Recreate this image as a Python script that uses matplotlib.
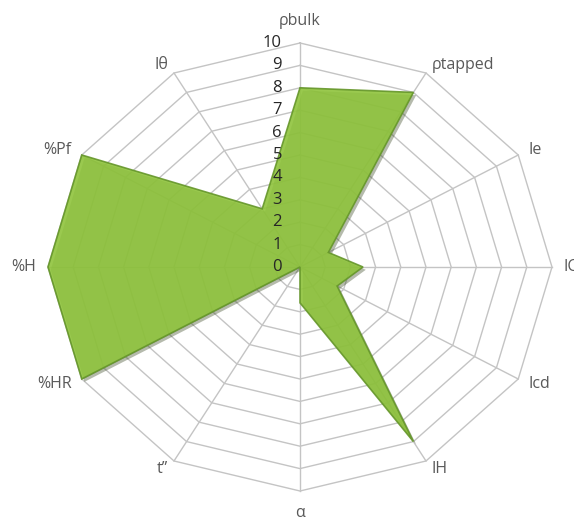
import numpy as np
import matplotlib
matplotlib.use('Agg')
import matplotlib.pyplot as plt
import matplotlib.patheffects as pe

# categories clockwise from the top
categories = ['ρbulk', 'ρtapped', 'Ie', 'IC', 'Icd', 'IH', 'α', 't’’', '%HR', '%H', '%Pf', 'Iθ']
values = [8, 9, 1.3, 2.5, 1.7, 9, 1.6, 0, 10, 10, 10, 3]
levels = list(range(0, 11))

plt.rcParams['font.family'] = ['Open Sans', 'DejaVu Sans']

n = len(categories)
theta = np.arange(n) * 2 * np.pi / n

def to_xy(r, th):
    return np.asarray(r) * np.sin(th), np.asarray(r) * np.cos(th)

fig = plt.figure(figsize=(5.74, 5.20), dpi=100)
ax = fig.add_axes([0, 0, 1, 1])
# center at pixel (300, 267), radius 10 = 252 px across, 224 px down
ax.set_xlim(-300 / 25.2, (574 - 300) / 25.2)
ax.set_ylim(-(520 - 267) / 22.4, 267 / 22.4)
ax.axis('off')

grid_col = '#c4c4c4'
th_closed = np.append(theta, theta[0])
for lv in levels[1:]:
    gx, gy = to_xy(np.full(n + 1, lv), th_closed)
    ax.plot(gx, gy, color=grid_col, lw=1.0, zorder=1)
for th in theta:
    sx, sy = to_xy([0, levels[-1]], th)
    ax.plot(sx, sy, color=grid_col, lw=1.0, zorder=1)

# data polygon
vx, vy = to_xy(np.append(values, values[0]), th_closed)
ax.fill(vx, vy, facecolor='#8fc43c', edgecolor='#65962a', lw=1.2, alpha=0.9, zorder=2,
        path_effects=[pe.SimplePatchShadow(offset=(2, -2), alpha=0.35), pe.Normal()])

# radial tick labels along the top spoke
for lv in levels:
    ax.annotate(str(lv), (0, lv), xytext=(-13, 0), textcoords='offset points',
                ha='right', va='center', fontsize=12, color='#262626', zorder=3)

# category labels
for lab, th in zip(categories, theta):
    s, c = np.sin(th), np.cos(th)
    if abs(s) < 0.01:
        ha = 'center'
        off = (0, 16 * np.sign(c))
    else:
        ha = 'left' if s > 0 else 'right'
        off = (8.5 * s, 6.5 * c)
    ax.annotate(lab, (10 * s, 10 * c), xytext=off, textcoords='offset points',
                ha=ha, va='center', fontsize=11.5, color='#595959', zorder=3)

fig.savefig('out.png', dpi=100)
